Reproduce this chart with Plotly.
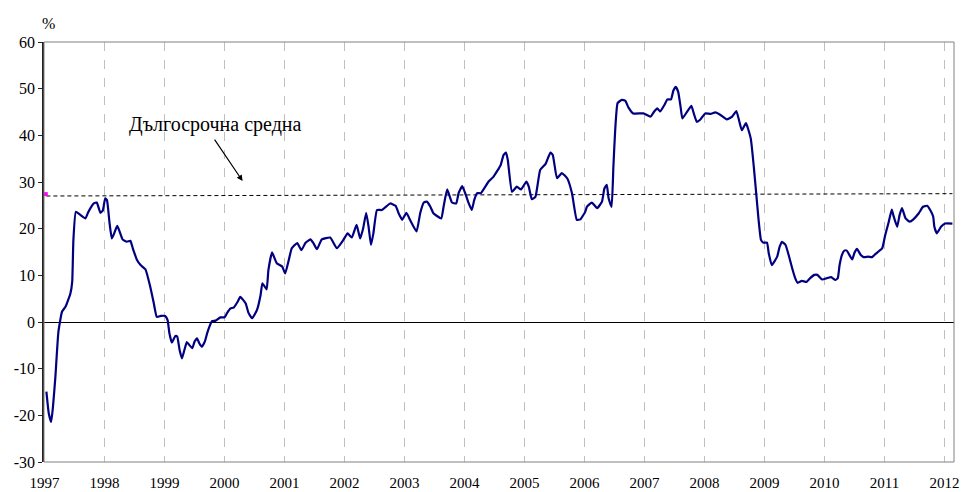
import plotly.graph_objects as go

# ---- data ----
years = [1997.03, 1997.07, 1997.11, 1997.14, 1997.18, 1997.23, 1997.29, 1997.35, 1997.43, 1997.46,
         1997.48, 1997.52, 1997.58, 1997.68, 1997.73, 1997.82, 1997.87, 1997.93, 1997.97, 1998.01,
         1998.04, 1998.08, 1998.12, 1998.16, 1998.21, 1998.25, 1998.30, 1998.37, 1998.43, 1998.47,
         1998.54, 1998.60, 1998.68, 1998.76, 1998.82, 1998.87, 1998.94, 1999.01, 1999.05, 1999.08,
         1999.12, 1999.18, 1999.21, 1999.25, 1999.29, 1999.33, 1999.37, 1999.41, 1999.46, 1999.50,
         1999.54, 1999.58, 1999.62, 1999.67, 1999.71, 1999.75, 1999.79, 1999.85, 1999.93, 2000.00,
         2000.04, 2000.10, 2000.15, 2000.22, 2000.26, 2000.35, 2000.40, 2000.46, 2000.54, 2000.60,
         2000.63, 2000.70, 2000.73, 2000.79, 2000.87, 2000.96, 2001.01, 2001.07, 2001.12, 2001.21,
         2001.28, 2001.35, 2001.43, 2001.48, 2001.54, 2001.62, 2001.76, 2001.87, 2001.98, 2002.05,
         2002.12, 2002.20, 2002.26, 2002.31, 2002.36, 2002.40, 2002.44, 2002.48, 2002.54, 2002.62,
         2002.76, 2002.85, 2002.90, 2002.96, 2003.03, 2003.09, 2003.20, 2003.26, 2003.32, 2003.37,
         2003.43, 2003.48, 2003.61, 2003.65, 2003.71, 2003.79, 2003.86, 2003.90, 2003.96, 2004.01,
         2004.07, 2004.12, 2004.16, 2004.21, 2004.27, 2004.40, 2004.48, 2004.60, 2004.65, 2004.69,
         2004.72, 2004.79, 2004.87, 2004.94, 2005.03, 2005.07, 2005.12, 2005.18, 2005.26, 2005.35,
         2005.43, 2005.47, 2005.54, 2005.62, 2005.71, 2005.79, 2005.87, 2005.93, 2006.01, 2006.04,
         2006.12, 2006.21, 2006.29, 2006.33, 2006.37, 2006.40, 2006.45, 2006.48, 2006.51, 2006.55,
         2006.62, 2006.68, 2006.73, 2006.81, 2006.98, 2007.10, 2007.16, 2007.21, 2007.26, 2007.33,
         2007.38, 2007.44, 2007.48, 2007.52, 2007.56, 2007.60, 2007.63, 2007.71, 2007.78, 2007.82,
         2007.87, 2007.93, 2008.01, 2008.10, 2008.18, 2008.26, 2008.37, 2008.46, 2008.53, 2008.58,
         2008.62, 2008.69, 2008.77, 2008.82, 2008.86, 2008.90, 2008.94, 2008.98, 2009.04, 2009.07,
         2009.12, 2009.21, 2009.25, 2009.29, 2009.35, 2009.40, 2009.46, 2009.51, 2009.55, 2009.62,
         2009.70, 2009.76, 2009.83, 2009.88, 2009.96, 2010.04, 2010.11, 2010.18, 2010.22, 2010.25,
         2010.29, 2010.33, 2010.37, 2010.46, 2010.50, 2010.54, 2010.60, 2010.65, 2010.73, 2010.79,
         2010.85, 2010.96, 2011.01, 2011.07, 2011.12, 2011.15, 2011.21, 2011.25, 2011.29, 2011.35,
         2011.42, 2011.48, 2011.57, 2011.64, 2011.71, 2011.76, 2011.81, 2011.83, 2011.87, 2011.94,
         2012.01, 2012.13]

values = [-14.9, -19.6, -21.4, -18.1, -11.7, -2.1, 2.2, 3.3, 6.1, 8.6,
          17.6, 23.6, 23.1, 22.2, 23.6, 25.4, 25.6, 23.4, 23.9, 26.5,
          26.1, 21.5, 17.9, 19.0, 20.6, 19.4, 17.7, 17.2, 17.4, 15.8,
          13.3, 12.2, 11.3, 7.6, 4.0, 1.1, 1.3, 1.3, 0.4, -2.4,
          -4.4, -3.0, -3.1, -6.0, -7.8, -6.0, -4.3, -4.9, -5.6, -4.2,
          -3.5, -4.6, -5.3, -4.2, -2.4, -0.9, 0.2, 0.3, 1.0, 1.0,
          1.9, 2.9, 3.1, 4.4, 5.4, 4.0, 1.9, 0.8, 2.6, 5.8,
          8.3, 7.0, 11.1, 14.9, 12.6, 11.9, 10.4, 13.3, 15.8, 16.9,
          15.4, 17.0, 17.7, 16.9, 15.6, 17.7, 18.1, 15.8, 17.6, 19.0,
          18.1, 20.8, 17.9, 20.1, 23.4, 20.4, 16.5, 19.0, 24.0, 24.0,
          25.4, 24.9, 23.3, 21.9, 23.4, 21.9, 19.4, 23.3, 25.6, 25.8,
          24.7, 23.3, 22.2, 24.7, 28.4, 25.6, 25.4, 27.6, 29.1, 27.6,
          25.4, 24.0, 26.1, 27.6, 27.6, 30.1, 31.1, 33.6, 35.8, 36.3,
          34.7, 27.9, 29.0, 28.4, 30.1, 29.0, 26.3, 26.8, 32.6, 33.9,
          36.3, 35.8, 30.8, 31.9, 30.8, 27.6, 21.9, 22.0, 23.6, 24.7,
          25.6, 24.4, 25.8, 28.6, 29.4, 26.5, 24.7, 33.3, 41.1, 46.9,
          47.6, 47.4, 46.0, 44.7, 44.7, 44.0, 45.1, 45.8, 45.1, 46.5,
          47.7, 47.7, 49.6, 50.4, 49.3, 46.1, 43.6, 45.1, 46.3, 44.7,
          42.9, 43.4, 44.7, 44.6, 44.9, 44.4, 43.4, 44.0, 45.2, 42.9,
          41.1, 42.6, 39.3, 33.3, 27.6, 21.9, 17.6, 17.0, 17.0, 14.7,
          12.2, 14.0, 16.1, 17.2, 16.5, 14.4, 11.5, 9.4, 8.4, 8.8,
          8.6, 9.4, 10.1, 10.1, 9.1, 9.4, 9.6, 9.0, 9.4, 12.2,
          14.4, 15.3, 15.3, 13.4, 14.9, 15.7, 14.4, 13.9, 14.0, 13.9,
          14.6, 15.8, 18.6, 21.5, 24.1, 22.7, 20.4, 22.9, 24.4, 22.2,
          21.5, 22.0, 23.3, 24.7, 24.9, 24.0, 22.6, 20.4, 19.0, 20.4,
          21.1, 21.1]

avg_years = [1997.03, 2012.13]
avg_values = [27.0, 27.5]

marker_year = [1997.02]
marker_value = [27.4]

tick_years = list(range(1997, 2013))
tick_labels = [str(y) for y in tick_years]
y_ticks = list(range(-30, 61, 10))
y_labels = [str(v) for v in y_ticks]

avg_label = "Дългосрочна средна"

# ---- figure ----
FONT = "Liberation Serif, Times New Roman, serif"

fig = go.Figure()
fig.add_trace(go.Scatter(x=avg_years, y=avg_values, mode="lines",
                         line=dict(color="black", width=1, dash="4px,3px"),
                         hoverinfo="skip", showlegend=False))
fig.add_trace(go.Scatter(x=years, y=values, mode="lines",
                         line=dict(color="#000080", width=2.2, shape="spline", smoothing=0.4),
                         showlegend=False))
fig.add_trace(go.Scatter(x=marker_year, y=marker_value, mode="markers",
                         marker=dict(color="#ff00ff", size=4, symbol="square"),
                         showlegend=False))

fig.add_shape(type="rect", xref="paper", yref="paper", x0=0, x1=1, y0=0, y1=1,
              line=dict(color="#808080", width=1), layer="above")

fig.add_annotation(x=2000.30, y=30.2, xref="x", yref="y", text="",
                   showarrow=True, arrowhead=2, arrowsize=1, arrowwidth=1.2,
                   arrowcolor="black", ax=-29, ay=-43)
fig.add_annotation(x=1999.85, y=42.4, xref="x", yref="y", text=avg_label,
                   showarrow=False, font=dict(family=FONT, size=20, color="black"))
fig.add_annotation(x=0.005, y=1.0, xref="paper", yref="paper", text="%",
                   showarrow=False, xanchor="center", yanchor="bottom", yshift=8,
                   font=dict(family=FONT, size=16, color="black"))

fig.update_layout(
    width=964, height=492,
    margin=dict(l=44, r=10, t=42, b=30),
    paper_bgcolor="white", plot_bgcolor="white",
    font=dict(family=FONT, size=15, color="black"),
    xaxis=dict(range=[1996.99, 2012.157], tickmode="array", tickvals=tick_years,
               ticktext=tick_labels, showgrid=True, gridcolor="#c0c0c0", gridwidth=1,
               griddash="dash", zeroline=False, showline=False, ticks="",
               automargin=False, ticklabelstandoff=10,
               tickfont=dict(family=FONT, size=15, color="black")),
    yaxis=dict(range=[-30, 60], tickmode="array", tickvals=y_ticks, ticktext=y_labels,
               showgrid=False, zeroline=True, zerolinecolor="black", zerolinewidth=1,
               showline=True, linecolor="#222222", linewidth=1.5, ticks="outside",
               ticklen=4, tickcolor="#222222", automargin=False,
               tickfont=dict(family=FONT, size=16, color="black")),
)

# remove the default 8px page margin so the 964x492 figure fills the window exactly
fig.write_html("out.html",
               config={"displayModeBar": False},
               post_script="document.body.style.margin='0px';document.body.style.overflow='hidden';")
